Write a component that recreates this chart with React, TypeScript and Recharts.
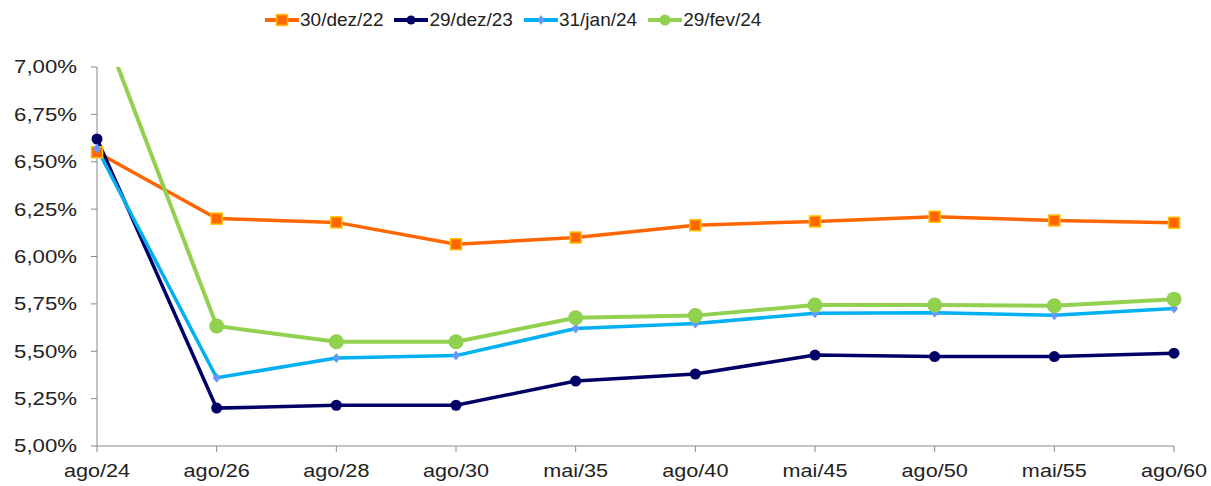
import { CartesianGrid, Legend, Line, LineChart, XAxis, YAxis } from 'recharts'

const categories = ['ago/24', 'ago/26', 'ago/28', 'ago/30', 'mai/35', 'ago/40', 'mai/45', 'ago/50', 'mai/55', 'ago/60']

const dez22 = [6.55, 6.2, 6.18, 6.065, 6.1, 6.165, 6.185, 6.21, 6.19, 6.178]
const dez23 = [6.62, 5.2, 5.215, 5.215, 5.343, 5.38, 5.48, 5.472, 5.472, 5.49]
const jan24 = [6.57, 5.36, 5.464, 5.477, 5.62, 5.647, 5.7, 5.703, 5.69, 5.725]
const fev24 = [7.29, 5.633, 5.55, 5.55, 5.677, 5.688, 5.744, 5.744, 5.74, 5.775]

const yTicks = [5, 5.25, 5.5, 5.75, 6, 6.25, 6.5, 6.75, 7]

const data = categories.map((c, i) => ({
  date: c,
  dez22: dez22[i],
  dez23: dez23[i],
  jan24: jan24[i],
  fev24: fev24[i],
}))

const FONT = '"Liberation Sans", Arial, sans-serif'

const ORANGE = '#FF6600'
const NAVY = '#000066'
const SKY = '#00B0F0'
const GREEN = '#92D050'

const SquareDot = (props: any) => {
  const { cx, cy } = props
  if (cx == null || cy == null) return null
  return <rect x={cx - 5.5} y={cy - 5.5} width={11} height={11} fill={ORANGE} stroke="#FFC000" strokeWidth={1.5} />
}

const NavyDot = (props: any) => {
  const { cx, cy } = props
  if (cx == null || cy == null) return null
  return <circle cx={cx} cy={cy} r={5.5} fill={NAVY} />
}

const DiamondDot = (props: any) => {
  const { cx, cy } = props
  if (cx == null || cy == null) return null
  return <polygon points={`${cx},${cy - 5} ${cx + 4},${cy} ${cx},${cy + 5} ${cx - 4},${cy}`} fill="#6699FF" />
}

const GreenDot = (props: any) => {
  const { cx, cy } = props
  if (cx == null || cy == null) return null
  return <circle cx={cx} cy={cy} r={7.5} fill={GREEN} />
}

// excel output looks horizontally stretched, so ticks are scaled a bit
const XTick = (props: any) => {
  const { x, y, payload } = props
  return (
    <text transform={`translate(${x},${y}) scale(1.17,1)`} textAnchor="middle" dy="0.71em" fill="#222" fontSize={18.5} fontFamily={FONT}>
      {payload.value}
    </text>
  )
}

const YTick = (props: any) => {
  const { x, y, payload } = props
  return (
    <text transform={`translate(${x},${y}) scale(1.2,1)`} textAnchor="end" dy="0.35em" fill="#222" fontSize={18.5} fontFamily={FONT}>
      {fmt(payload.value)}
    </text>
  )
}

const legendItems = [
  { name: '30/dez/22', color: ORANGE, marker: 'square' },
  { name: '29/dez/23', color: NAVY, marker: 'dot' },
  { name: '31/jan/24', color: SKY, marker: 'diamond' },
  { name: '29/fev/24', color: GREEN, marker: 'big' },
]

function LegendIcon({ color, marker }: { color: string; marker: string }) {
  return (
    <svg width={34} height={14} style={{ marginRight: 1 }}>
      <line x1={0} y1={7} x2={34} y2={7} stroke={color} strokeWidth={4} />
      {marker === 'square' && <rect x={11.5} y={1.5} width={11} height={11} fill={ORANGE} stroke="#FFC000" strokeWidth={1.5} />}
      {marker === 'dot' && <circle cx={17} cy={7} r={4.5} fill={NAVY} />}
      {marker === 'diamond' && <polygon points="17,2 20.5,7 17,12 13.5,7" fill="#6699FF" />}
      {marker === 'big' && <circle cx={17} cy={7} r={5.5} fill={GREEN} />}
    </svg>
  )
}

function ChartLegend() {
  return (
    <div style={{ display: 'flex', height: 24, paddingTop: 8, paddingBottom: 8, alignItems: 'center', paddingLeft: 265, fontFamily: FONT, fontSize: 19, color: '#222' }}>
      {legendItems.map((it) => (
        <div key={it.name} style={{ display: 'flex', alignItems: 'center', marginRight: 11 }}>
          <LegendIcon color={it.color} marker={it.marker} />
          <span>{it.name}</span>
        </div>
      ))}
    </div>
  )
}

const fmt = (v: number) => v.toFixed(2).replace('.', ',') + '%'

export default function App() {
  return (
    <div style={{ position: 'absolute', left: 0, top: 0 }}>
      <LineChart width={1211} height={486} data={data} margin={{ top: 27, right: 37, left: 0, bottom: 10 }}>
        <CartesianGrid horizontal={false} vertical={false} />
        <Legend verticalAlign="top" align="left" content={<ChartLegend />} wrapperStyle={{ top: 0, left: 0, width: 1211 }} />
        <XAxis
          dataKey="date"
          height={30}
          interval={0}
          tickSize={6}
          tickMargin={12}
          stroke="#888"
          tick={<XTick />}
        />
        <YAxis
          width={97}
          domain={[5, 7]}
          ticks={yTicks}
          allowDataOverflow
          tickSize={6}
          tickMargin={14}
          stroke="#888"
          tick={<YTick />}
        />
        <Line dataKey="dez22" name="30/dez/22" stroke={ORANGE} strokeWidth={3.5} dot={<SquareDot />} isAnimationActive={false} />
        <Line dataKey="dez23" name="29/dez/23" stroke={NAVY} strokeWidth={3.5} dot={<NavyDot />} isAnimationActive={false} />
        <Line dataKey="jan24" name="31/jan/24" stroke={SKY} strokeWidth={3.5} dot={<DiamondDot />} isAnimationActive={false} />
        <Line dataKey="fev24" name="29/fev/24" stroke={GREEN} strokeWidth={4} dot={<GreenDot />} isAnimationActive={false} />
      </LineChart>
    </div>
  )
}
